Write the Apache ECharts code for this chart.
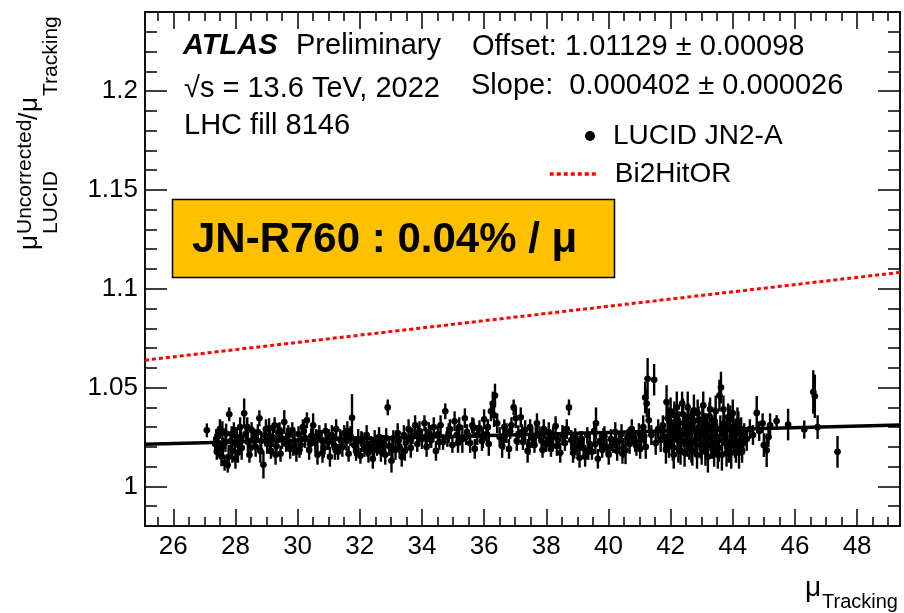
<!DOCTYPE html>
<html>
<head>
<meta charset="utf-8">
<script src="https://cdn.jsdelivr.net/npm/echarts@6/dist/echarts.min.js"></script>
<style>
  html, body { margin: 0; padding: 0; background: #fff; }
  #chart { width: 904px; height: 613px; }
</style>
</head>
<body>
<div id="chart"></div>
<script>
// ---- data ----
const muTracking = [
  27.08, 27.35, 27.40, 27.45, 27.50, 27.55, 27.60, 27.65, 27.70, 27.75,
  27.80, 27.85, 27.90, 27.95, 28.00, 28.05, 28.10, 28.15, 28.20, 28.28,
  28.33, 28.40, 28.45, 28.52, 28.58, 28.65, 28.72, 28.77, 28.83, 28.90,
  28.95, 29.02, 29.08, 29.14, 29.20, 29.26, 29.32, 29.38, 29.45, 29.50,
  29.57, 29.63, 29.70, 29.76, 29.83, 29.90, 29.96, 30.03, 30.10, 30.17,
  30.24, 30.30, 30.37, 30.44, 30.50, 30.57, 30.64, 30.70, 30.77, 30.84,
  30.90, 30.97, 31.04, 31.10, 31.17, 31.24, 31.30, 31.37, 31.44, 31.50,
  31.57, 31.64, 31.70, 31.75, 31.82, 31.88, 31.95, 32.02, 32.08, 32.15,
  32.22, 32.28, 32.35, 32.42, 32.48, 32.55, 32.62, 32.68, 32.75, 32.82,
  32.90, 32.95, 33.02, 33.08, 33.15, 33.22, 33.28, 33.35, 33.42, 33.50,
  33.57, 33.64, 33.70, 33.78, 33.85, 33.92, 34.00, 34.08, 34.15, 34.22,
  34.30, 34.38, 34.45, 34.52, 34.60, 34.68, 34.75, 34.82, 34.90, 34.98,
  35.05, 35.12, 35.20, 35.30, 35.38, 35.45, 35.55, 35.62, 35.70, 35.78,
  35.85, 35.93, 36.00, 36.08, 36.15, 36.22, 36.28, 36.35, 36.42, 36.50,
  36.58, 36.65, 36.72, 36.80, 36.88, 36.95, 37.02, 37.10, 37.18, 37.25,
  37.32, 37.40, 37.48, 37.55, 37.62, 37.70, 37.78, 37.85, 37.92, 38.00,
  38.08, 38.15, 38.22, 38.30, 38.38, 38.45, 38.52, 38.60, 38.66, 38.73,
  38.80, 38.86, 38.93, 39.00, 39.07, 39.14, 39.20, 39.25, 39.32, 39.40,
  39.47, 39.54, 39.60, 39.66, 39.73, 39.80, 39.87, 39.94, 40.01, 40.08,
  40.15, 40.22, 40.28, 40.35, 40.42, 40.48, 40.55, 40.62, 40.68, 40.75,
  40.82, 40.90, 40.98, 41.05, 41.12, 41.18, 41.20, 41.23, 41.26, 41.30,
  41.38, 41.47, 41.52, 41.60, 41.68, 41.75, 41.80, 41.87, 41.92, 41.97,
  42.02, 42.07, 42.12, 42.17, 42.22, 42.27, 42.32, 42.37, 42.42, 42.47,
  42.52, 42.57, 42.62, 42.67, 42.72, 42.77, 42.82, 42.87, 42.92, 42.97,
  43.02, 43.07, 43.12, 43.17, 43.22, 43.27, 43.32, 43.37, 43.42, 43.47,
  43.52, 43.57, 43.62, 43.67, 43.72, 43.77, 43.82, 43.87, 43.92, 43.97,
  44.02, 44.07, 44.12, 44.18, 44.24, 44.30, 44.37, 44.45, 44.55, 44.65,
  44.77, 44.85, 44.96, 45.00, 45.09, 45.15, 45.20, 45.41, 45.78, 46.30,
  46.59, 46.64, 46.73, 47.37,
  // dense block around mu 42-44
  41.85, 41.90, 41.95, 42.00, 42.05, 42.10, 42.15, 42.20, 42.25, 42.30,
  42.35, 42.40, 42.45, 42.50, 42.55, 42.60, 42.65, 42.70, 42.75, 42.80,
  42.85, 42.90, 42.95, 43.00, 43.05, 43.10, 43.15, 43.20, 43.25, 43.30,
  43.35, 43.40, 43.45, 43.50, 43.55, 43.60, 43.65, 43.70, 43.75, 43.80,
  43.85, 43.90, 43.95, 44.00, 44.05, 44.10, 44.15, 44.20, 44.27, 44.34,
  // mu 27-34
  27.38, 27.48, 27.58, 27.68, 27.78, 27.88, 27.98, 28.08, 28.18, 28.38,
  28.48, 28.62, 28.80, 28.98, 29.11, 29.29, 29.42, 29.66, 29.86, 30.06,
  30.20, 30.40, 30.60, 30.80, 31.00, 31.20, 31.40, 31.60, 31.85, 32.05,
  32.25, 32.45, 32.65, 32.85, 33.05, 33.25, 33.45, 33.65, 33.88, 34.12,
  // mu 37-41
  37.05, 37.22, 37.45, 37.66, 37.88, 38.11, 38.34, 38.56, 38.90, 39.10,
  39.35, 39.58, 39.84, 40.05, 40.25, 40.45, 40.66, 40.86, 41.02, 41.15,
  // mu 34-37
  34.26, 34.56, 34.86, 35.16, 35.42, 35.66, 35.96, 36.12, 36.32, 36.62, 36.84
]
const ratioLucid = [
  1.0284, 1.0215, 1.0175, 1.0262, 1.0290, 1.0152, 1.0205, 1.0120, 1.0268, 1.0110,
  1.0365, 1.0230, 1.0180, 1.0285, 1.0140, 1.0250, 1.0210, 1.0300, 1.0195, 1.0370,
  1.0265, 1.0225, 1.0160, 1.0285, 1.0240, 1.0200, 1.0275, 1.0345, 1.0230, 1.0110,
  1.0260, 1.0215, 1.0295, 1.0180, 1.0250, 1.0310, 1.0205, 1.0270, 1.0165, 1.0240,
  1.0326, 1.0215, 1.0260, 1.0190, 1.0285, 1.0230, 1.0175, 1.0265, 1.0210, 1.0300,
  1.0245, 1.0335, 1.0185, 1.0255, 1.0310, 1.0220, 1.0160, 1.0270, 1.0235, 1.0195,
  1.0280, 1.0225, 1.0150, 1.0260, 1.0210, 1.0290, 1.0175, 1.0240, 1.0200, 1.0270,
  1.0230, 1.0165, 1.0255, 1.0347, 1.0210, 1.0180, 1.0240, 1.0155, 1.0225, 1.0190,
  1.0260, 1.0170, 1.0215, 1.0140, 1.0235, 1.0195, 1.0250, 1.0175, 1.0220, 1.0160,
  1.0400, 1.0205, 1.0130, 1.0245, 1.0185, 1.0270, 1.0200, 1.0150, 1.0260, 1.0225,
  1.0290, 1.0195, 1.0255, 1.0310, 1.0215, 1.0280, 1.0240, 1.0320, 1.0200, 1.0275,
  1.0235, 1.0300, 1.0180, 1.0265, 1.0310, 1.0225, 1.0380, 1.0250, 1.0290, 1.0210,
  1.0330, 1.0260, 1.0300, 1.0240, 1.0345, 1.0275, 1.0220, 1.0310, 1.0190, 1.0260,
  1.0295, 1.0230, 1.0340, 1.0265, 1.0215, 1.0380, 1.0420, 1.0460, 1.0320, 1.0250,
  1.0205, 1.0300, 1.0270, 1.0190, 1.0310, 1.0400, 1.0345, 1.0260, 1.0350, 1.0225,
  1.0285, 1.0180, 1.0300, 1.0245, 1.0210, 1.0320, 1.0265, 1.0230, 1.0290, 1.0215,
  1.0275, 1.0190, 1.0250, 1.0305, 1.0235, 1.0170, 1.0260, 1.0220, 1.0290, 1.0400,
  1.0235, 1.0170, 1.0255, 1.0205, 1.0145, 1.0240, 1.0195, 1.0150, 1.0260, 1.0215,
  1.0175, 1.0280, 1.0320, 1.0140, 1.0230, 1.0185, 1.0255, 1.0200, 1.0160, 1.0240,
  1.0210, 1.0275, 1.0180, 1.0230, 1.0265, 1.0195, 1.0183, 1.0250, 1.0215, 1.0290,
  1.0240, 1.0205, 1.0270, 1.0235, 1.0300, 1.0450, 1.0200, 1.0420, 1.0545, 1.0335,
  1.0260, 1.0540, 1.0220, 1.0290, 1.0235, 1.0310, 1.0250, 1.0427, 1.0250, 1.0330,
  1.0275, 1.0200, 1.0360, 1.0290, 1.0235, 1.0320, 1.0180, 1.0420, 1.0270, 1.0310,
  1.0220, 1.0350, 1.0260, 1.0190, 1.0330, 1.0280, 1.0240, 1.0370, 1.0300, 1.0210,
  1.0340, 1.0265, 1.0175, 1.0310, 1.0250, 1.0390, 1.0285, 1.0200, 1.0330, 1.0240,
  1.0160, 1.0460, 1.0500, 1.0270, 1.0320, 1.0220, 1.0290, 1.0180, 1.0340, 1.0250,
  1.0300, 1.0205, 1.0265, 1.0320, 1.0230, 1.0180, 1.0270, 1.0240, 1.0290, 1.0260,
  1.0372, 1.0280, 1.0320, 1.0209, 1.0183, 1.0250, 1.0310, 1.0331, 1.0313, 1.0288,
  1.0478, 1.0456, 1.0300, 1.0175,
  1.0185, 1.0345, 1.0215, 1.0380, 1.0255, 1.0160, 1.0300, 1.0400, 1.0190, 1.0275,
  1.0230, 1.0365, 1.0170, 1.0290, 1.0400, 1.0205, 1.0315, 1.0175, 1.0385, 1.0220,
  1.0160, 1.0335, 1.0265, 1.0190, 1.0410, 1.0300, 1.0225, 1.0150, 1.0355, 1.0210,
  1.0300, 1.0170, 1.0380, 1.0250, 1.0195, 1.0290, 1.0160, 1.0390, 1.0250, 1.0170,
  1.0350, 1.0215, 1.0170, 1.0370, 1.0260, 1.0190, 1.0330, 1.0170, 1.0290, 1.0220,
  1.0240, 1.0195, 1.0280, 1.0225, 1.0150, 1.0265, 1.0220, 1.0170, 1.0245, 1.0300,
  1.0195, 1.0250, 1.0180, 1.0290, 1.0235, 1.0160, 1.0285, 1.0245, 1.0205, 1.0185,
  1.0280, 1.0215, 1.0250, 1.0170, 1.0240, 1.0195, 1.0230, 1.0280, 1.0205, 1.0240,
  1.0200, 1.0185, 1.0215, 1.0245, 1.0190, 1.0230, 1.0180, 1.0240, 1.0265, 1.0250,
  1.0230, 1.0275, 1.0210, 1.0255, 1.0185, 1.0240, 1.0205, 1.0265, 1.0190, 1.0230,
  1.0175, 1.0215, 1.0245, 1.0195, 1.0230, 1.0165, 1.0260, 1.0225, 1.0190, 1.0255,
  1.0260, 1.0225, 1.0270, 1.0220, 1.0250, 1.0295, 1.0245, 1.0300, 1.0360, 1.0235, 1.0280
]
const ratioErr = [
  .0035, .005, .004, .004, .005, .005, .004, .004, .005, .004,
  .0035, .005, .006, .004, .005, .005, .004, .005, .006, .0075,
  .004, .005, .004, .004, .005, .005, .004, .004, .005, .007,
  .004, .005, .005, .004, .005, .004, .005, .005, .004, .005,
  .006, .004, .005, .005, .004, .005, .005, .004, .005, .004,
  .005, .004, .005, .004, .006, .005, .005, .004, .005, .005,
  .004, .004, .005, .005, .004, .005, .004, .005, .005, .004,
  .005, .004, .005, .012, .004, .005, .005, .004, .005, .004,
  .005, .005, .004, .005, .005, .004, .005, .005, .004, .005,
  .004, .005, .006, .004, .005, .005, .004, .005, .005, .004,
  .005, .005, .004, .005, .004, .005, .005, .004, .005, .005,
  .004, .005, .005, .004, .005, .004, .004, .005, .005, .004,
  .005, .004, .005, .007, .005, .004, .005, .004, .005, .005,
  .004, .005, .005, .004, .006, .005, .006, .006, .005, .005,
  .006, .004, .005, .005, .004, .004, .005, .005, .005, .004,
  .005, .006, .004, .005, .004, .005, .004, .005, .005, .004,
  .005, .004, .005, .005, .004, .005, .005, .004, .005, .004,
  .005, .005, .004, .005, .005, .004, .005, .005, .004, .005,
  .004, .005, .008, .005, .005, .004, .005, .004, .005, .005,
  .004, .005, .005, .004, .005, .005, .007, .004, .005, .005,
  .004, .005, .005, .004, .006, .008, .006, .007, .0105, .006,
  .005, .008, .006, .005, .006, .005, .006, .0085, .006, .007,
  .006, .007, .007, .006, .007, .006, .007, .006, .007, .006,
  .007, .007, .006, .007, .006, .007, .006, .007, .006, .007,
  .006, .007, .007, .006, .007, .006, .007, .006, .007, .006,
  .007, .008, .008, .006, .007, .006, .007, .006, .007, .006,
  .007, .006, .007, .006, .006, .006, .005, .006, .005, .005,
  .0085, .005, .005, .006, .0085, .005, .006, .003, .008, .0046,
  .011, .011, .006, .008,
  .007, .008, .007, .007, .008, .007, .006, .008, .007, .007,
  .007, .008, .007, .006, .008, .007, .007, .007, .008, .007,
  .007, .007, .006, .008, .007, .007, .007, .008, .007, .007,
  .006, .007, .008, .007, .007, .007, .008, .007, .006, .007,
  .007, .007, .008, .007, .006, .007, .007, .008, .006, .006,
  .005, .004, .005, .005, .006, .004, .005, .005, .004, .005,
  .005, .004, .006, .005, .005, .005, .004, .005, .005, .004,
  .005, .005, .004, .005, .005, .006, .004, .005, .005, .004,
  .005, .005, .004, .005, .005, .004, .005, .005, .004, .005,
  .005, .004, .005, .005, .004, .005, .005, .004, .005, .005,
  .004, .005, .005, .004, .005, .005, .004, .005, .005, .004,
  .005, .004, .005, .005, .004, .005, .005, .004, .006, .005, .004
]

// fit (black) and Bi2HitOR reference (red dotted), end points
const fitX = [25.09, 49.38]
const fitY = [1.0214, 1.0311]
const bi2X = [25.09, 49.38]
const bi2Y = [1.0639, 1.1083]

const xMajorTicks = [26, 28, 30, 32, 34, 36, 38, 40, 42, 44, 46, 48]
const yMajorTicks = [1, 1.05, 1.1, 1.15, 1.2]

const xMin = 25.09
const xMax = 49.38
const yMin = 0.98
const yMax = 1.24

const xMinorTicks = []
for (let v = 25.5; v < xMax; v += 0.5) {
  if (v % 2 !== 0) xMinorTicks.push(v)
}
const yMinorTicks = []
for (let i = 99; i <= 123; i++) {
  if (i % 5 !== 0) yMinorTicks.push(i / 100)
}

const FONT = "'Liberation Sans', Arial, Helvetica, sans-serif"

function xAx(pos, ticks, len, labels) {
  return {
    type: 'value', position: pos, min: xMin, max: xMax,
    axisLine: { show: true, onZero: false, lineStyle: { color: '#000', width: 1.5 } },
    axisTick: { show: true, inside: true, length: len, customValues: ticks, lineStyle: { color: '#000', width: 1.5 } },
    axisLabel: {
      show: labels, customValues: ticks, fontFamily: FONT, fontSize: 26, color: '#000', margin: 8,
      formatter: v => String(Math.round(v))
    },
    splitLine: { show: false }
  }
}
function yAx(pos, ticks, len, labels) {
  return {
    type: 'value', position: pos, min: yMin, max: yMax,
    axisLine: { show: true, onZero: false, lineStyle: { color: '#000', width: 1.5 } },
    axisTick: { show: true, inside: true, length: len, customValues: ticks, lineStyle: { color: '#000', width: 1.5 } },
    axisLabel: {
      show: labels, customValues: ticks, fontFamily: FONT, fontSize: 26, color: '#000', margin: 7,
      formatter: v => String(+v.toFixed(3))
    },
    splitLine: { show: false }
  }
}

// text placed by its baseline
function txt(x, base, text, size, extra) {
  return {
    type: 'text', x: x, y: base - 0.31 * size, silent: true,
    style: Object.assign({
      text: text, fontFamily: FONT, fontSize: size, fill: '#000',
      align: 'left', textAlign: 'left', verticalAlign: 'middle', textVerticalAlign: 'middle'
    }, extra || {})
  }
}

const points = muTracking.map((x, i) => [x, ratioLucid[i], ratioErr[i]])

const option = {
  animation: false,
  backgroundColor: '#fff',
  grid: { left: 145, right: 4, top: 12, bottom: 87 },
  xAxis: [
    xAx('bottom', xMajorTicks, 17, true),
    xAx('bottom', xMinorTicks, 9, false),
    xAx('top', xMajorTicks, 17, false),
    xAx('top', xMinorTicks, 9, false)
  ],
  yAxis: [
    yAx('left', yMajorTicks, 22, true),
    yAx('left', yMinorTicks, 12, false),
    yAx('right', yMajorTicks, 22, false),
    yAx('right', yMinorTicks, 12, false)
  ],
  legend: [
    {
      data: [{ name: 'LUCID JN2-A', icon: 'circle' }],
      left: 585, top: 121, padding: 0, itemWidth: 10, itemHeight: 10,
      selectedMode: false,
      textStyle: { fontFamily: FONT, fontSize: 28, color: '#000', lineHeight: 30, padding: [0, 0, 0, 13] }
    },
    {
      data: [{
        name: 'Bi2HitOR',
        itemStyle: { opacity: 0 },
        lineStyle: { color: '#ff0000', width: 3.5, type: [4, 3] }
      }],
      left: 548, top: 159, padding: 0, itemWidth: 46, itemHeight: 14,
      selectedMode: false,
      textStyle: { fontFamily: FONT, fontSize: 28, color: '#000', lineHeight: 30, padding: [0, 0, 0, 14] }
    }
  ],
  series: [
    {
      name: 'LUCID JN2-A',
      type: 'custom',
      xAxisIndex: 0, yAxisIndex: 0,
      itemStyle: { color: '#000' },
      encode: { x: 0, y: 1 },
      data: points,
      z: 3,
      renderItem: function (params, api) {
        const x = api.value(0), y = api.value(1), e = api.value(2)
        const p = api.coord([x, y])
        const hi = api.coord([x, y + e])
        const lo = api.coord([x, y - e])
        return {
          type: 'group',
          children: [
            { type: 'line', shape: { x1: p[0], y1: hi[1], x2: p[0], y2: lo[1] }, style: { stroke: '#000', lineWidth: 2.4 } },
            { type: 'line', shape: { x1: p[0] - 3, y1: p[1], x2: p[0] + 3, y2: p[1] }, style: { stroke: '#000', lineWidth: 1.5 } },
            { type: 'circle', shape: { cx: p[0], cy: p[1], r: 3.3 }, style: { fill: '#000' } }
          ]
        }
      }
    },
    {
      name: 'fit',
      type: 'line',
      xAxisIndex: 0, yAxisIndex: 0,
      data: fitX.map((x, i) => [x, fitY[i]]),
      symbol: 'none',
      lineStyle: { color: '#000', width: 3.5 },
      z: 4,
      silent: true
    },
    {
      name: 'Bi2HitOR',
      type: 'line',
      xAxisIndex: 0, yAxisIndex: 0,
      data: bi2X.map((x, i) => [x, bi2Y[i]]),
      symbol: 'none',
      showSymbol: false,
      itemStyle: { color: '#ff0000' },
      lineStyle: { color: '#ff0000', width: 3, type: [4, 3] },
      z: 4,
      silent: true
    }
  ],
  graphic: [
    {
      type: 'rect', silent: true,
      shape: { x: 172.5, y: 199.5, width: 442, height: 78 },
      style: { fill: '#FFC000', stroke: '#000', lineWidth: 1.5 },
      z: 10
    },
    Object.assign(txt(192, 253, 'JN-R760 : 0.04% / μ', 42, { fontWeight: 'bold' }), { z: 11 }),
    txt(183, 55, 'ATLAS', 29, { fontWeight: 'bold', fontStyle: 'italic' }),
    txt(296, 55, 'Preliminary', 29),
    txt(184, 98, '√s = 13.6 TeV, 2022', 29),
    txt(184, 135, 'LHC fill 8146', 29),
    txt(472, 56, 'Offset: 1.01129 ± 0.00098', 29),
    txt(471, 95, 'Slope:  0.000402 ± 0.000026', 29),
    // x axis title
    txt(805, 597, 'μ', 28),
    txt(822, 609, 'Tracking', 20),
    // y axis title, rotated
    {
      type: 'group', x: 38, y: 250, rotation: Math.PI / 2, silent: true,
      children: [
        txt(0, 0, 'μ', 26),
        txt(16, -6, 'Uncorrected', 21),
        txt(16, 20, 'LUCID', 21),
        txt(130, 0, '/', 26),
        txt(138, 0, 'μ', 26),
        txt(154, 20, 'Tracking', 21)
      ]
    }
  ]
}

const myChart = echarts.init(document.getElementById('chart'))
myChart.setOption(option)
</script>
</body>
</html>
